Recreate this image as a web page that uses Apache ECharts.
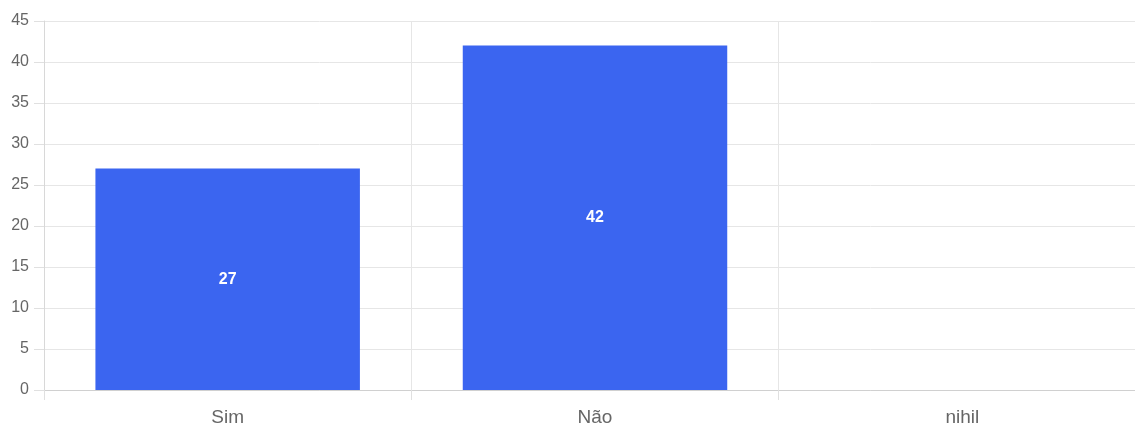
<!DOCTYPE html>
<html>
<head>
<meta charset="utf-8">
<script src="https://cdn.jsdelivr.net/npm/echarts@6/dist/echarts.min.js"></script>
<style>
html,body{margin:0;padding:0;background:#fff;overflow:hidden;width:1135px;height:427px;}
#c{width:1146px;height:427px;}
</style>
</head>
<body>
<div id="c"></div>
<script>
const categories = ['Sim', 'Não', 'nihil'];
const values = [27, 42, 0];
const yMin = 0, yMax = 45, yStep = 5;

const chart = echarts.init(document.getElementById('c'), null, {renderer: 'canvas'});
chart.setOption({
  animation: false,
  textStyle: {fontFamily: 'Arial, "Liberation Sans", sans-serif'},
  grid: {left: 44, right: 0, top: 21, bottom: 36.5, containLabel: false},
  xAxis: {
    type: 'category',
    data: categories,
    boundaryGap: true,
    axisLine: {show: true, lineStyle: {color: '#d0d0d0', width: 1}},
    axisTick: {show: true, length: 10, lineStyle: {color: '#e0e0e0'}},
    axisLabel: {color: '#666', fontSize: 19, margin: 18},
    splitLine: {show: true, lineStyle: {color: '#e6e6e6', width: 1}}
  },
  yAxis: {
    type: 'value',
    min: yMin, max: yMax, interval: yStep,
    axisLine: {show: true, lineStyle: {color: '#d8d8d8', width: 1}},
    axisTick: {show: true, length: 10, lineStyle: {color: '#e0e0e0'}},
    axisLabel: {color: '#666', fontSize: 16, margin: 15},
    splitLine: {show: true, lineStyle: {color: '#e6e6e6', width: 1}}
  },
  series: [{
    type: 'bar',
    data: values,
    barWidth: '72%',
    itemStyle: {color: '#3b65f0'},
    label: {
      show: true,
      position: 'inside',
      color: '#fff',
      fontWeight: 'bold',
      fontSize: 16,
      formatter: p => (p.value ? String(p.value) : '')
    }
  }]
});
</script>
</body>
</html>
